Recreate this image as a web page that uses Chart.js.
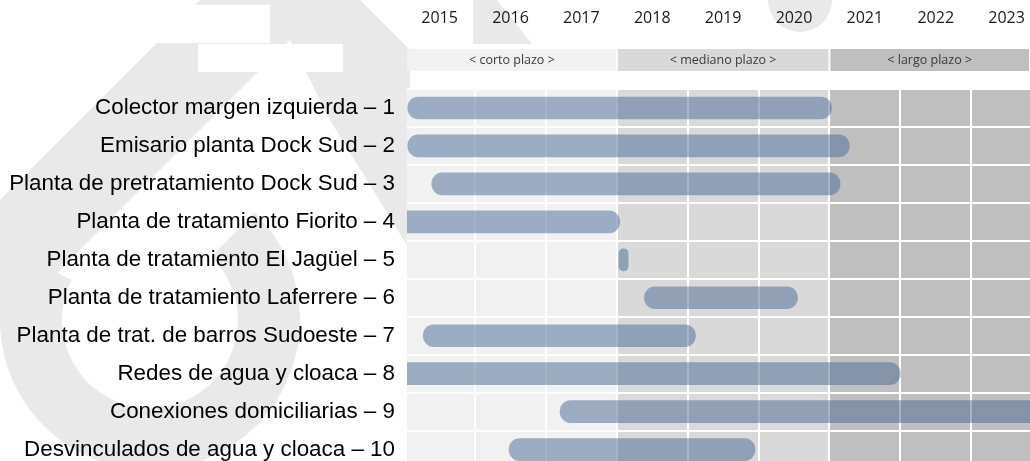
<!DOCTYPE html>
<html>
<head>
<meta charset="utf-8">
<script src="https://cdn.jsdelivr.net/npm/chart.js@4"></script>
<style>
  html, body { margin: 0; padding: 0; background: #fff; overflow: hidden; }
  #wrap { width: 1030px; height: 461px; overflow: hidden; }
  #chart { display: block; width: 1030px; height: 494px; }
</style>
</head>
<body>
<div id="wrap"><canvas id="chart" width="1030" height="494"></canvas></div>
<script>
'use strict';

// categories (one per row)
var obras = [
  'Colector margen izquierda \u2013 1',
  'Emisario planta Dock Sud \u2013 2',
  'Planta de pretratamiento Dock Sud \u2013 3',
  'Planta de tratamiento Fiorito \u2013 4',
  'Planta de tratamiento El Jag\u00fcel \u2013 5',
  'Planta de tratamiento Laferrere \u2013 6',
  'Planta de trat. de barros Sudoeste \u2013 7',
  'Redes de agua y cloaca \u2013 8',
  'Conexiones domiciliarias \u2013 9',
  'Desvinculados de agua y cloaca \u2013 10'
];
// start / end of each work, in years
var inicio = [2015.05, 2015.05, 2015.39, 2014.9, 2018.03, 2018.39, 2015.27, 2014.9, 2017.2, 2016.48];
var fin    = [2021.03, 2021.28, 2021.15, 2018.04, 2018.16, 2020.55, 2019.11, 2022.0, 2024.2, 2019.95];

// tick labels on top
var years = [2015, 2016, 2017, 2018, 2019, 2020, 2021, 2022, 2023];

// planning periods
var periodos = ['< corto plazo >', '< mediano plazo >', '< largo plazo >'];
var periodoDesde = [2015, 2018, 2021];
var periodoHasta = [2018, 2021, 2024];
var periodoColor = ['#f1f1f1', '#d9d9d9', '#bfbfbf'];

var xMin = 2015.04;
var xMax = 2023.83;

var rangos = [];
for (var i = 0; i < obras.length; i++) {
  rangos.push([inicio[i], fin[i]]);
}

// faint logo in the background
function drawWatermark(ctx) {
  ctx.save();
  ctx.fillStyle = '#e9e9e9';
  // ring
  ctx.beginPath();
  ctx.arc(150, 320, 150, -0.8, Math.PI * 1.15, false);
  ctx.arc(150, 320, 88, Math.PI * 1.15, -0.8, true);
  ctx.closePath();
  ctx.fill();
  // band down-left
  ctx.beginPath();
  ctx.moveTo(200, 0); ctx.lineTo(330, 0); ctx.lineTo(0, 330); ctx.lineTo(0, 200);
  ctx.closePath();
  ctx.fill();
  // band down-right
  ctx.beginPath();
  ctx.moveTo(270, 0); ctx.lineTo(360, 0); ctx.lineTo(410, 50); ctx.lineTo(410, 250); ctx.lineTo(330, 120);
  ctx.closePath();
  ctx.fill();
  // top fragments
  ctx.beginPath();
  ctx.arc(800, 0, 32, 0, Math.PI, false);
  ctx.fill();
  ctx.beginPath();
  ctx.moveTo(473, 0); ctx.lineTo(497, 0); ctx.lineTo(532, 44); ctx.lineTo(473, 44);
  ctx.closePath();
  ctx.fill();
  // white cells over it
  ctx.fillStyle = '#ffffff';
  ctx.fillRect(0, 5, 270, 38);
  ctx.fillRect(198, 44, 145, 28);
  ctx.restore();
}

// shaded columns + header row
var periodPlugin = {
  id: 'periodos',
  beforeDraw: function(chart) {
    var ctx = chart.ctx;
    var area = chart.chartArea;
    var xs = chart.scales.x;
    drawWatermark(ctx);
    ctx.save();
    for (var p = 0; p < periodos.length; p++) {
      var x0 = Math.max(area.left, xs.getPixelForValue(periodoDesde[p]));
      var x1 = Math.min(area.right, xs.getPixelForValue(periodoHasta[p]));
      ctx.fillStyle = periodoColor[p];
      ctx.fillRect(x0, area.top, x1 - x0, area.bottom - area.top);
      // header band
      ctx.fillRect(x0 + (p > 0 ? 1 : 0), 49, x1 - x0 - (p > 0 ? 1 : 0) - 1, 22);
      ctx.fillStyle = '#3a3a3a';
      ctx.font = '12.5px "Open Sans"';
      ctx.textAlign = 'center';
      ctx.textBaseline = 'middle';
      ctx.fillText(periodos[p], (x0 + x1) / 2, 60);
    }
    ctx.restore();
  }
};

var ctx = document.getElementById('chart').getContext('2d');
new Chart(ctx, {
  type: 'bar',
  data: {
    labels: obras,
    datasets: [{
      data: rangos,
      backgroundColor: 'rgba(69, 103, 149, 0.5)',
      borderWidth: 0,
      borderRadius: 11,
      borderSkipped: false,
      barThickness: 22
    }]
  },
  options: {
    indexAxis: 'y',
    responsive: false,
    animation: false,
    devicePixelRatio: 1,
    layout: { padding: 0 },
    plugins: {
      legend: { display: false },
      tooltip: { enabled: false }
    },
    scales: {
      x: {
        type: 'linear',
        position: 'bottom',
        min: xMin,
        max: xMax,
        afterBuildTicks: function(axis) {
          axis.ticks = years.slice(1).map(function(y) { return { value: y }; });
        },
        afterFit: function(axis) { axis.height = 0; },
        ticks: { display: false },
        grid: { color: '#ffffff', lineWidth: 2, drawTicks: false },
        border: { display: false }
      },
      xTop: {
        type: 'linear',
        position: 'top',
        min: xMin,
        max: xMax,
        afterBuildTicks: function(axis) {
          axis.ticks = years.map(function(y) { return { value: y + 0.5 }; });
        },
        afterFit: function(axis) { axis.height = 89; },
        ticks: {
          autoSkip: false,
          maxRotation: 0,
          padding: 0,
          color: '#1a1a1a',
          font: { family: '"Open Sans"', size: 16, lineHeight: '126px' },
          callback: function(value, index) { return String(years[index]); }
        },
        grid: { display: false },
        border: { display: false }
      },
      y: {
        afterFit: function(axis) { axis.width = 407; },
        ticks: {
          padding: 12,
          color: '#000000',
          font: { family: '"Liberation Sans", Arial', size: 22.4 }
        },
        grid: { color: '#ffffff', lineWidth: 2, drawTicks: false, offset: true },
        border: { display: false }
      }
    }
  },
  plugins: [periodPlugin]
});
</script>
</body>
</html>
